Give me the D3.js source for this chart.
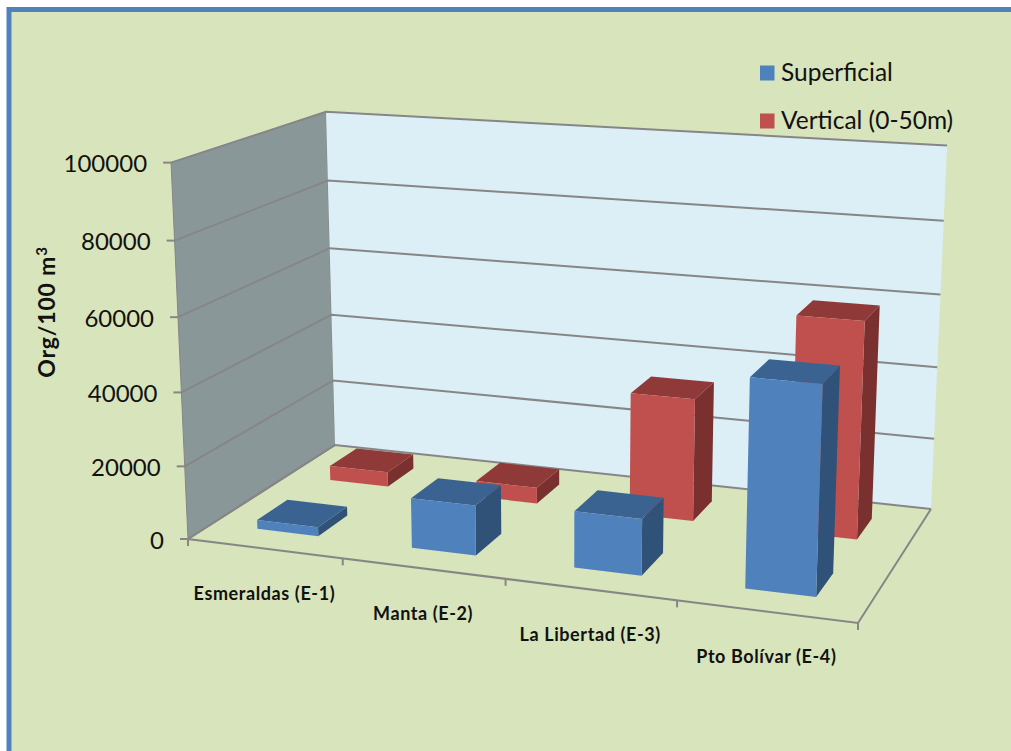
<!DOCTYPE html>
<html>
<head>
<meta charset="utf-8">
<script src="https://cdn.jsdelivr.net/npm/d3@7"></script>
<style>
  html, body { margin: 0; padding: 0; background: #fff; }
  svg { display: block; }
  text { font-family: Lato, "Open Sans", sans-serif; fill: #111; }
</style>
</head>
<body>
<svg id="chart" width="1011" height="751"></svg>
<script>
// Data
const categories = ["Esmeraldas (E-1)", "Manta (E-2)", "La Libertad (E-3)", "Pto Bolívar (E-4)"];
const seriesNames = ["Superficial", "Vertical (0-50m)"];
const superficial = [2500, 13500, 15000, 54000];
const vertical = [4200, 4500, 34000, 59000];
const valueTicks = [0, 20000, 40000, 60000, 80000, 100000];

// Styles
const colors = {
  "Superficial": { front: "#4f81bd", top: "#3b6391", side: "#305278" },
  "Vertical (0-50m)": { front: "#c0504d", top: "#8f3a38", side: "#7a302e" }
};
const gridColor = "#868686";

const svg = d3.select("#chart");

// Projective camera: floor corners on screen, plus the vanishing point of the verticals.
const floor = { fl: [188, 539], fr: [858, 623], br: [931, 509], bl: [335, 445] };
const vanish = [562, 8855];
const heightWeight = -0.0433;

function floorHomography(q) {
  const [x0, y0] = q.fl, [x1, y1] = q.fr, [x2, y2] = q.br, [x3, y3] = q.bl;
  const dx1 = x1 - x2, dx2 = x3 - x2, sx = x0 - x1 + x2 - x3;
  const dy1 = y1 - y2, dy2 = y3 - y2, sy = y0 - y1 + y2 - y3;
  const det = dx1 * dy2 - dx2 * dy1;
  const g = (sx * dy2 - dx2 * sy) / det;
  const h = (dx1 * sy - sx * dy1) / det;
  return {
    a: x1 - x0 + g * x1, b: x3 - x0 + h * x3, c: x0,
    d: y1 - y0 + g * y1, e: y3 - y0 + h * y3, f: y0,
    g, h
  };
}
const H = floorHomography(floor);

// Scales: value to height, category to width fraction, series to depth fraction
const yScale = d3.scaleLinear().domain([0, 100000]).range([0, 1]);
const xScale = d3.scaleBand().domain(categories).range([0, 1]).paddingInner(0.6).paddingOuter(0.3);
const zScale = d3.scaleBand().domain(seriesNames).range([0, 1]).paddingInner(0.6).paddingOuter(0.3);

function project(u, v, value) {
  const t = yScale(value) * heightWeight;
  const w = H.g * u + H.h * v + 1 + t;
  return [
    (H.a * u + H.b * v + H.c + t * vanish[0]) / w,
    (H.d * u + H.e * v + H.f + t * vanish[1]) / w
  ];
}

const path = d3.line();
const poly = pts => path(pts) + "Z";

// Outer panel: its right and bottom edges run off the page
svg.append("rect")
  .attr("x", 9).attr("y", 9.5)
  .attr("width", 1060).attr("height", 800)
  .attr("fill", "#d8e4bc")
  .attr("stroke", "#4f81bd").attr("stroke-width", 5);

// Walls
svg.append("path")
  .attr("d", poly([project(0, 0, 0), project(0, 1, 0), project(0, 1, 100000), project(0, 0, 100000)]))
  .attr("fill", "#8a9799").attr("stroke", gridColor).attr("stroke-width", 1);
svg.append("path")
  .attr("d", poly([project(0, 1, 0), project(1, 1, 0), project(1, 1, 100000), project(0, 1, 100000)]))
  .attr("fill", "#dceef6");

// Gridlines wrap the left wall and the back wall
const grid = svg.append("g")
  .attr("fill", "none").attr("stroke", gridColor).attr("stroke-width", 2);
valueTicks.forEach(t => {
  grid.append("path").attr("d", path([project(0, 0, t), project(0, 1, t), project(1, 1, t)]));
});

// Floor outline
grid.append("path").attr("d", path([project(0, 1, 0), project(0, 0, 0), project(1, 0, 0), project(1, 1, 0)]));

// Category tick marks along the front edge
d3.range(0, 5).forEach(i => {
  const p = project(i / 4, 0, 0);
  grid.append("line")
    .attr("x1", p[0]).attr("y1", p[1])
    .attr("x2", p[0]).attr("y2", p[1] + 7);
});

// Value axis ticks and labels
valueTicks.forEach(t => {
  const p = project(0, 0, t);
  grid.append("line")
    .attr("x1", p[0] - 8).attr("y1", p[1])
    .attr("x2", p[0]).attr("y2", p[1]);
  svg.append("text")
    .attr("x", p[0] - 24).attr("y", p[1] + 9.5)
    .attr("text-anchor", "end")
    .attr("font-size", 24)
    .text(d3.format("d")(t));
});

// Bars: the deeper series first, so the nearer one covers it
function drawBars(name, values) {
  const v0 = zScale(name), v1 = v0 + zScale.bandwidth();
  const style = colors[name];
  const g = svg.append("g");
  categories.forEach((cat, i) => {
    const u0 = xScale(cat), u1 = u0 + xScale.bandwidth();
    const val = values[i];
    g.append("path").attr("fill", style.side).attr("d", poly([
      project(u1, v0, 0), project(u1, v1, 0), project(u1, v1, val), project(u1, v0, val)
    ]));
    g.append("path").attr("fill", style.top).attr("d", poly([
      project(u0, v0, val), project(u1, v0, val), project(u1, v1, val), project(u0, v1, val)
    ]));
    g.append("path").attr("fill", style.front).attr("d", poly([
      project(u0, v0, 0), project(u1, v0, 0), project(u1, v0, val), project(u0, v0, val)
    ]));
  });
}
drawBars("Vertical (0-50m)", vertical);
drawBars("Superficial", superficial);

// Category labels
categories.forEach(cat => {
  const p = project(xScale(cat) + xScale.bandwidth() / 2, 0, 0);
  svg.append("text")
    .attr("x", p[0]).attr("y", p[1] + 51.5)
    .attr("text-anchor", "middle")
    .attr("font-size", 18)
    .attr("font-weight", 700)
    .attr("letter-spacing", 0.6)
    .text(cat);
});

// Value axis title, with a raised exponent
const title = svg.append("text")
  .attr("transform", "translate(55,312) rotate(-90)")
  .attr("text-anchor", "middle")
  .attr("font-size", 23)
  .attr("font-weight", 700)
  .attr("letter-spacing", 0.8)
  .text("Org/100 m");
title.append("tspan")
  .attr("font-size", 15)
  .attr("dy", -8)
  .text("3");

// Legend
const legendY = [73, 121];
seriesNames.forEach((name, i) => {
  svg.append("rect")
    .attr("x", 760).attr("y", legendY[i] - 7.5)
    .attr("width", 14.5).attr("height", 15)
    .attr("fill", colors[name].front);
  svg.append("text")
    .attr("x", 781).attr("y", legendY[i] + 7.5)
    .attr("font-size", 24.5)
    .text(name);
});
</script>
</body>
</html>
